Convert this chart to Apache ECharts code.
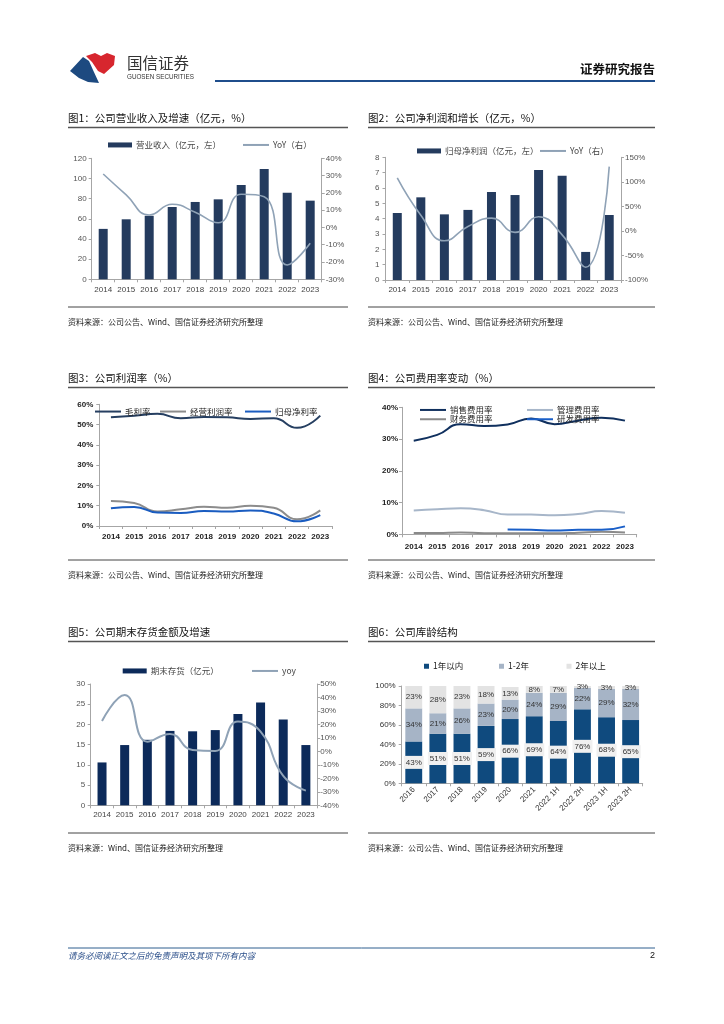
<!DOCTYPE html>
<html><head><meta charset="utf-8">
<script src="https://cdn.jsdelivr.net/npm/echarts@6/dist/echarts.min.js"></script>
<style>html,body{margin:0;padding:0;background:#fff}#c{width:724px;height:1024px}</style>
</head><body><div id="c"></div>
<script>
const F = "'Liberation Sans','Noto Sans CJK SC',sans-serif";
const CJK = "'Noto Sans CJK SC','Liberation Sans',sans-serif";

const years = ['2014','2015','2016','2017','2018','2019','2020','2021','2022','2023'];
const revenue = [50, 59.5, 63, 71.7, 76.7, 79.3, 93.5, 109.4, 85.9, 78];
const revenueYoY = [30.9, 18.8, 7.2, 13.4, 8.8, 2.7, 19.2, 17.8, -21.7, -9.2];
const netProfit = [4.37, 5.39, 4.28, 4.57, 5.74, 5.54, 7.17, 6.8, 1.83, 4.24];
const netProfitYoY = [108, 32, -20, 9, 26, -3, 29, -8, -74, 131];
const grossMargin = [53.6, 54.4, 55.3, 53.1, 53.8, 53.6, 52.8, 53.1, 48.4, 54.4];
const opMargin = [12.3, 11.3, 7.1, 8.2, 9.5, 9.0, 10.0, 9.0, 3.3, 7.7];
const netMargin = [8.7, 9.4, 6.6, 6.4, 7.4, 7.1, 7.7, 6.2, 2.3, 5.4];
const sellingRate = [29.5, 31.3, 34.7, 34.1, 34.6, 36.5, 34.7, 35.8, 36.7, 35.8];
const adminRate = [7.5, 7.9, 8.2, 7.6, 6.2, 6.2, 6.0, 6.4, 7.3, 6.8];
const financeRate = [0.4, 0.4, 0.6, 0.3, 0.3, 0.3, 0.3, 0.5, 0.8, 0.6];
const rdRate = [null, null, null, null, 1.5, 1.4, 1.2, 1.4, 1.4, 2.5];
const inventory = [10.6, 14.9, 16.2, 18.4, 18.3, 18.6, 22.6, 25.4, 21.2, 14.9];
const inventoryYoY = [22.6, 41.8, 7.2, 12.9, 1.0, 0.3, 22.1, 14.7, -18.2, -29.1];
const agePeriods = ['2016','2017','2018','2019','2020','2021','2022 1H','2022 2H','2023 1H','2023 2H'];
const ageWithin1 = [43, 51, 51, 59, 66, 69, 64, 76, 68, 65];
const age1to2 = [34, 21, 26, 23, 20, 24, 29, 22, 29, 32];
const ageOver2 = [23, 28, 23, 18, 13, 8, 7, 3, 3, 3];

const AX = '#a6a6a6';
function catAxis(g, data, o) {
  o = o || {};
  return {
    type: 'category', gridIndex: g, data: data, boundaryGap: true,
    axisLine: {show: true, lineStyle: {color: AX, width: 1}},
    axisTick: {show: true, length: 3, lineStyle: {color: AX}},
    axisLabel: Object.assign({fontSize: 8, color: '#444', margin: 6, fontFamily: F, interval: 0}, o.label || {}),
    splitLine: {show: false}
  };
}
function valAxis(g, min, max, interval, pos, o) {
  o = o || {};
  return {
    type: 'value', gridIndex: g, min: min, max: max, interval: interval, position: pos,
    axisLine: {show: true, lineStyle: {color: AX, width: 1}},
    axisTick: {show: true, length: 3, lineStyle: {color: AX}},
    axisLabel: Object.assign({fontSize: 8, color: '#555', margin: 5, fontFamily: F}, o.label || {}),
    splitLine: {show: false}
  };
}
function leg(name, left, cy, kind, o) {
  o = o || {};
  let icon = 'rect', w = 26, h = 2;
  if (kind === 'bar') { w = 24; h = 5; }
  if (kind === 'sq') { w = 5; h = 5; }
  return {
    data: [name], left: left, top: cy - 6, icon: icon, itemWidth: w, itemHeight: h,
    itemGap: 0, padding: 0, selectedMode: false, orient: 'horizontal',
    textStyle: Object.assign({fontSize: 8.5, color: '#444', fontFamily: CJK, padding: [0, 0, 0, -1]}, o.text || {})
  };
}
function txt(s, x, y, size, o) {
  o = o || {};
  return {type: 'text', x: x, y: y, silent: true, style: Object.assign({
    text: s, fontSize: size, fontFamily: CJK, fill: '#111', align: 'left', verticalAlign: 'middle'}, o)};
}
function hline(x1, x2, y, color, w) {
  return {type: 'line', silent: true, shape: {x1: x1, y1: y, x2: x2, y2: y}, style: {stroke: color, lineWidth: w}};
}

const grids = [
  {left: 91.7, top: 158.3, width: 230, height: 121},
  {left: 385.5, top: 157.3, width: 235.5, height: 122.7},
  {left: 99.3, top: 404.3, width: 232.6, height: 121.7},
  {left: 402, top: 407.3, width: 234.7, height: 127},
  {left: 90.7, top: 684, width: 226.5, height: 121.3},
  {left: 401.7, top: 686, width: 241, height: 97.3}
].map(g => Object.assign({containLabel: false, outerBoundsMode: 'none', show: false}, g));

const boldLbl = {fontWeight: 'bold', color: '#222', fontSize: 8};

const xAxes = [
  catAxis(0, years, {label: {margin: 6}}),
  catAxis(1, years, {label: {margin: 6}}),
  catAxis(2, years, {label: Object.assign({margin: 7}, boldLbl)}),
  catAxis(3, years, {label: Object.assign({margin: 8}, boldLbl)}),
  catAxis(4, years, {label: {margin: 5.5}}),
  catAxis(5, agePeriods, {label: {rotate: 45, margin: 5, color: '#333', fontSize: 8}})
];
const pct = '{value}%';
const yAxes = [
  valAxis(0, 0, 120, 20, 'left'),
  valAxis(0, -30, 40, 10, 'right', {label: {formatter: pct, margin: 4}}),
  valAxis(1, 0, 8, 1, 'left', {label: {margin: 6}}),
  valAxis(1, -100, 150, 50, 'right', {label: {formatter: pct, margin: 4}}),
  valAxis(2, 0, 60, 10, 'left', {label: Object.assign({formatter: pct, margin: 6}, boldLbl)}),
  valAxis(3, 0, 40, 10, 'left', {label: Object.assign({formatter: pct, margin: 4}, boldLbl)}),
  valAxis(4, 0, 30, 5, 'left', {label: {margin: 5.5}}),
  valAxis(4, -40, 50, 10, 'right', {label: {formatter: pct, margin: 3}}),
  valAxis(5, 0, 100, 20, 'left', {label: {formatter: pct, margin: 6, color: '#333'}})
];

function lineS(name, x, y, data, color, w) {
  return {name: name, type: 'line', xAxisIndex: x, yAxisIndex: y, data: data, smooth: true,
    symbol: 'none', connectNulls: false, color: color, lineStyle: {color: color, width: w}, z: 3};
}
function barS(name, x, y, data, color, w) {
  return {name: name, type: 'bar', xAxisIndex: x, yAxisIndex: y, data: data, barWidth: w,
    color: color, itemStyle: {color: color}};
}
const ageLbl = {show: true, position: 'inside', fontSize: 8, color: '#333', fontFamily: F,
  formatter: p => p.value + '%'};

const series = [
  barS('营业收入（亿元，左）', 0, 0, revenue, '#243b5e', 9),
  lineS('YoY（右）', 0, 1, revenueYoY, '#8fa2b6', 1.6),
  barS('归母净利润（亿元，左）', 1, 2, netProfit, '#243b5e', 9),
  lineS('YoY（右）', 1, 3, netProfitYoY, '#8fa2b6', 1.6),
  lineS('毛利率', 2, 4, grossMargin, '#263f61', 2),
  lineS('经营利润率', 2, 4, opMargin, '#8c8c8c', 2),
  lineS('归母净利率', 2, 4, netMargin, '#1a5cc0', 2),
  lineS('销售费用率', 3, 5, sellingRate, '#10305e', 2),
  lineS('管理费用率', 3, 5, adminRate, '#a7b6c9', 2),
  lineS('财务费用率', 3, 5, financeRate, '#8a8a8a', 2),
  lineS('研发费用率', 3, 5, rdRate, '#1a5fc8', 2),
  barS('期末存货（亿元）', 4, 6, inventory, '#0c2a5a', 9),
  lineS('yoy', 4, 7, inventoryYoY, '#8fa2b6', 2),
  {name: '1年以内', type: 'bar', stack: 'age', xAxisIndex: 5, yAxisIndex: 8, data: ageWithin1,
    barWidth: '70%', itemStyle: {color: '#0f4a7e'},
    label: Object.assign({}, ageLbl, {backgroundColor: '#f0f0f0', padding: [3, 2, 2, 2]})},
  {name: '1-2年', type: 'bar', stack: 'age', xAxisIndex: 5, yAxisIndex: 8, data: age1to2,
    barWidth: '70%', itemStyle: {color: '#a6b4c6'}, label: ageLbl},
  {name: '2年以上', type: 'bar', stack: 'age', xAxisIndex: 5, yAxisIndex: 8, data: ageOver2,
    barWidth: '70%', itemStyle: {color: '#e3e3e3'}, label: ageLbl}
];

const legends = [
  leg('营业收入（亿元，左）', 108, 146.7, 'bar'),
  leg('YoY（右）', 243, 146.7, 'line'),
  leg('归母净利润（亿元，左）', 417, 152.7, 'bar'),
  leg('YoY（右）', 540, 152.7, 'line'),
  leg('毛利率', 95, 413.3, 'line', {text: {color: '#222'}}),
  leg('经营利润率', 160, 413.3, 'line', {text: {color: '#222'}}),
  leg('归母净利率', 245, 413.3, 'line', {text: {color: '#222'}}),
  leg('销售费用率', 420, 411.7, 'line', {text: {color: '#222'}}),
  leg('管理费用率', 527, 411.7, 'line', {text: {color: '#222'}}),
  leg('财务费用率', 420, 421, 'line', {text: {color: '#222'}}),
  leg('研发费用率', 527, 421, 'line', {text: {color: '#222'}}),
  leg('期末存货（亿元）', 122.7, 672.7, 'bar'),
  leg('yoy', 252, 672.7, 'line'),
  leg('1年以内', 424, 668, 'sq', {text: {color: '#222'}}),
  leg('1-2年', 499, 668, 'sq', {text: {color: '#222'}}),
  leg('2年以上', 566.5, 668, 'sq', {text: {color: '#222'}})
];

const src1 = '资料来源：公司公告、Wind、国信证券经济研究所整理';
const src2 = '资料来源：Wind、国信证券经济研究所整理';
const graphics = [
  {type: 'polygon', silent: true, shape: {points: [[70,71],[83,57],[89,61],[93,70],[99,83],[88,82],[79,78]]}, style: {fill: '#1d4a80'}},
  {type: 'polygon', silent: true, shape: {points: [[86,56],[95,53],[101,56],[107,53],[115,56],[114,65],[104,74],[98,71],[92,62]]}, style: {fill: '#d7262e'}},
  txt('国信证券', 127, 63, 15.5, {fill: '#333'}),
  txt('GUOSEN SECURITIES', 127, 77, 6.3, {fill: '#333', fontFamily: F}),
  txt('证券研究报告', 655, 69, 12.5, {align: 'right', fontWeight: 'bold', fill: '#111'}),
  hline(215, 655, 81, '#1f4e8c', 2),

  txt('图1：公司营业收入及增速（亿元，%）', 68, 118, 10.5),
  txt('图2：公司净利润和增长（亿元，%）', 368, 118, 10.5),
  txt('图3：公司利润率（%）', 68, 378, 10.5),
  txt('图4：公司费用率变动（%）', 368, 378, 10.5),
  txt('图5：公司期末存货金额及增速', 68, 632, 10.5),
  txt('图6：公司库龄结构', 368, 632, 10.5),
  hline(68, 348, 127.5, '#555', 1.5), hline(368, 655, 127.5, '#555', 1.5),
  hline(68, 348, 387.5, '#555', 1.5), hline(368, 655, 387.5, '#555', 1.5),
  hline(68, 348, 641.5, '#555', 1.5), hline(368, 655, 641.5, '#555', 1.5),

  hline(68, 348, 307, '#444', 1), hline(368, 655, 307, '#444', 1),
  hline(68, 348, 560, '#444', 1), hline(368, 655, 560, '#444', 1),
  hline(68, 348, 833, '#444', 1), hline(368, 655, 833, '#444', 1),
  txt(src1, 68, 322, 8, {fill: '#222'}), txt(src1, 368, 322, 8, {fill: '#222'}),
  txt(src1, 68, 575, 8, {fill: '#222'}), txt(src1, 368, 575, 8, {fill: '#222'}),
  txt(src2, 68, 848, 8, {fill: '#222'}), txt(src1, 368, 848, 8, {fill: '#222'}),

  hline(68, 655, 948, '#2e5f8f', 1),
  txt('请务必阅读正文之后的免责声明及其项下所有内容', 68, 956, 8.5, {fill: '#2b4f8a', fontStyle: 'italic'}),
  txt('2', 655, 956, 9, {align: 'right', fill: '#111', fontFamily: F})
];

const chart = echarts.init(document.getElementById('c'), null, {renderer: 'canvas', width: 724, height: 1024});
chart.setOption({
  backgroundColor: '#ffffff',
  animation: false,
  grid: grids,
  xAxis: xAxes,
  yAxis: yAxes,
  legend: legends,
  series: series,
  graphic: graphics,
  tooltip: {show: false}
});
</script>
</body></html>
